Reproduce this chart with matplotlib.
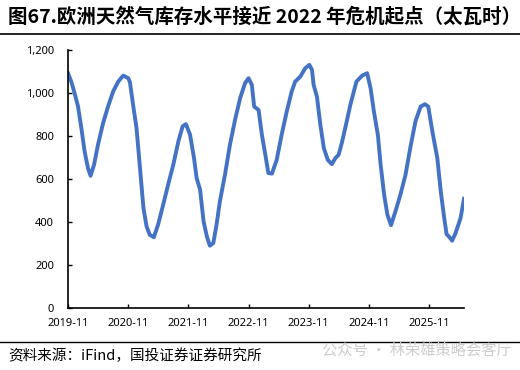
import numpy as np
import pandas as pd
import matplotlib
matplotlib.use("Agg")
import matplotlib.pyplot as plt
import matplotlib.dates as mdates
from matplotlib.lines import Line2D

plt.rcParams["font.family"] = ["Noto Sans", "Noto Sans CJK SC", "DejaVu Sans"]

# EU gas storage (TWh)
dates = [
    "2019-11-01", "2019-11-21", "2019-12-11", "2020-01-01", "2020-01-21", "2020-02-10",
    "2020-03-01", "2020-03-17", "2020-04-07", "2020-05-01", "2020-06-01", "2020-07-01",
    "2020-08-01", "2020-09-01", "2020-10-01", "2020-11-01", "2020-11-11", "2020-12-01",
    "2020-12-21", "2021-01-11", "2021-02-01", "2021-02-20", "2021-03-11", "2021-04-05",
    "2021-05-01", "2021-06-01", "2021-07-01", "2021-08-01", "2021-09-01", "2021-09-27",
    "2021-10-17", "2021-11-11", "2021-12-05", "2021-12-21", "2022-01-11", "2022-02-01",
    "2022-02-21", "2022-03-11", "2022-04-01", "2022-04-21", "2022-05-11", "2022-06-11",
    "2022-07-11", "2022-08-11", "2022-09-11", "2022-10-11", "2022-11-01", "2022-11-21",
    "2022-12-05", "2023-01-01", "2023-01-21", "2023-02-11", "2023-03-01", "2023-03-23",
    "2023-04-21", "2023-05-21", "2023-06-21", "2023-07-21", "2023-08-11", "2023-09-11",
    "2023-10-11", "2023-11-05", "2023-11-21", "2023-12-01", "2023-12-21", "2024-01-11",
    "2024-02-01", "2024-02-25", "2024-03-21", "2024-04-11", "2024-05-01", "2024-05-21",
    "2024-06-11", "2024-07-11", "2024-08-17", "2024-09-21", "2024-10-21", "2024-11-11",
    "2024-12-01", "2024-12-25", "2025-01-11", "2025-02-01", "2025-02-21", "2025-03-15",
    "2025-04-11", "2025-05-11", "2025-06-11", "2025-07-11", "2025-08-11", "2025-09-11",
    "2025-10-07", "2025-10-27", "2025-11-21", "2025-12-21", "2026-01-11", "2026-02-01",
    "2026-02-15", "2026-03-05", "2026-03-21", "2026-04-11", "2026-05-11", "2026-06-01",
]
storage = [
    1092, 1053, 999, 937, 837, 728,
    651, 615, 666, 759, 860, 937,
    1007, 1053, 1081, 1069, 1050, 940,
    837, 651, 465, 380, 341, 329,
    388, 481, 574, 666, 775, 845,
    855, 806, 697, 604, 550, 403,
    333, 290, 302, 388, 496, 620,
    759, 875, 976, 1046, 1069, 1038,
    937, 921, 806, 713, 628, 625,
    689, 806, 914, 1007, 1053, 1076,
    1115, 1131, 1108, 1038, 984, 852,
    744, 689, 669, 697, 713, 770,
    840, 945, 1053, 1081, 1092, 1022,
    914, 806, 666, 527, 434, 385,
    450, 527, 620, 750, 870, 937,
    948, 937, 821, 697, 542, 418,
    344, 329, 313, 349, 418, 508,
]
tick_dates = ["2019-11-01", "2020-11-01", "2021-11-01", "2022-11-01",
              "2023-11-01", "2024-11-01", "2025-11-01"]
y_ticks = [0, 200, 400, 600, 800, 1000, 1200]

title = "图67.欧洲天然气库存水平接近 2022 年危机起点（太瓦时）"
source = "资料来源：iFind，国投证券证券研究所"
watermark = "公众号 · 林荣雄策略会客厅"

x = pd.to_datetime(dates)
fig = plt.figure(figsize=(5.2, 3.7), dpi=100)
ax = fig.add_axes([68 / 520, 1 - 308 / 370, 396 / 520, 258 / 370])
ax.plot(x, storage, color="#4472c4", lw=2.8, solid_joinstyle="round")

ax.set_xlim(x[0], x[-1])
ax.set_ylim(0, 1200)
ax.set_yticks(y_ticks)
ax.set_yticklabels([f"{v:,}" for v in y_ticks])
ax.set_xticks(pd.to_datetime(tick_dates))
ax.xaxis.set_major_formatter(mdates.DateFormatter("%Y-%m"))
ax.tick_params(direction="in", length=3, width=1, labelsize=8, colors="black")
ax.tick_params(axis="x", pad=7)
ax.tick_params(axis="y", pad=10)
for s in ["top", "right"]:
    ax.spines[s].set_visible(False)
for s in ["left", "bottom"]:
    ax.spines[s].set_linewidth(1.2)

fig.text(8 / 520, 1 - 17 / 370, title, fontsize=14, fontweight="bold",
         family=["Noto Sans CJK SC", "DejaVu Sans"], va="center", ha="left")
fig.add_artist(Line2D([0, 1], [1 - 34 / 370, 1 - 34 / 370], color="black", lw=1.2))
fig.add_artist(Line2D([0, 1], [1 - 342 / 370, 1 - 342 / 370], color="black", lw=1.0))
fig.text(8 / 520, 1 - 356 / 370, source, fontsize=10.5, style="italic",
         family=["Noto Sans CJK SC", "DejaVu Sans"], va="center", ha="left")
fig.text(322 / 520, 1 - 350 / 370, watermark, fontsize=11, color="#cccccc",
         family=["Noto Sans CJK SC", "DejaVu Sans"], va="center", ha="left")

fig.savefig("out.png", dpi=100)
